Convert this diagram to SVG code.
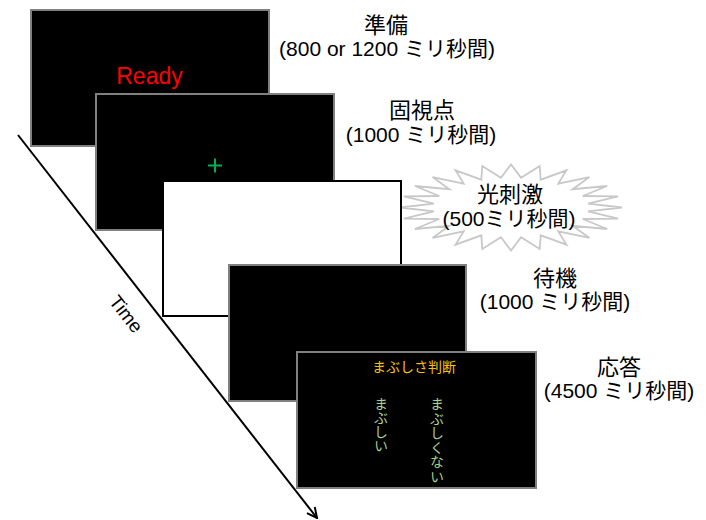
<svg xmlns="http://www.w3.org/2000/svg" width="706" height="520" viewBox="0 0 706 520">
<defs>
<style>
.scr{fill:#000;stroke:#808080;stroke-width:2}
.lbl{font-family:"Liberation Sans","Noto Sans CJK JP",sans-serif;fill:#000;text-anchor:middle}
.h{font-size:22px}
.d{font-size:21px}
.jp{font-family:"Noto Sans CJK JP",sans-serif;font-size:14px;text-anchor:middle}
.vt{font-family:"Noto Sans CJK JP",sans-serif;font-size:14px;fill:#a9d18e;writing-mode:vertical-rl;text-orientation:upright;text-anchor:start}
</style>
<marker id="ah" viewBox="0 0 12 12" refX="11" refY="6" markerWidth="12" markerHeight="12" markerUnits="userSpaceOnUse" orient="auto">
<path d="M1,1 L11,6 L1,11" fill="none" stroke="#000" stroke-width="2"/>
</marker>
</defs>
<rect width="706" height="520" fill="#fff"/>

<g id="ready">
<rect class="scr" x="31" y="10" width="238" height="136"/>
<text x="149.5" y="84" font-family="Liberation Sans,sans-serif" font-size="23" fill="#ff0000" text-anchor="middle">Ready</text>
<text class="lbl h" x="386" y="33">準備</text>
<text class="lbl d" x="387" y="56">(800 or 1200 ミリ秒間)</text>
</g>

<g id="fixation">
<rect class="scr" x="96" y="94" width="238" height="136"/>
<path d="M208,165.5 H222 M215,158.5 V172.5" stroke="#00b050" stroke-width="2"/>
<text class="lbl h" x="422" y="118">固視点</text>
<text class="lbl d" x="421" y="142">(1000 ミリ秒間)</text>
</g>

<g id="stimulus">
<polygon fill="#fff" stroke="#c8c8c8" stroke-width="1.8" points="622,207.5 588,211.4 618.2,218.6 582.8,219 607.1,229 572.6,225.8 589.5,237.9 558.3,231.4 566.5,244.7 540.7,235.3 539.7,249 521.1,237.3 511,250.5 500.9,237.3 482.3,249 481.3,235.3 455.5,244.7 463.7,231.4 432.5,237.9 449.4,225.8 414.9,229 439.2,219 403.8,218.6 434,211.4 400,207.5 434,203.6 403.8,196.4 439.2,196 414.9,186 449.4,189.2 432.5,177.1 463.7,183.6 455.5,170.3 481.3,179.7 482.3,166 500.9,177.7 511,164.5 521.1,177.7 539.7,166 540.7,179.7 566.5,170.3 558.3,183.6 589.5,177.1 572.6,189.2 607.1,186 582.8,196 618.2,196.4 588,203.6"/>
<rect x="163" y="181" width="238" height="135" fill="#fff" stroke="#000" stroke-width="2"/>
<text class="lbl h" x="510" y="202">光刺激</text>
<text class="lbl d" x="509" y="226">(500ミリ秒間)</text>
</g>

<g id="wait">
<rect class="scr" x="229" y="265" width="237" height="136"/>
<text class="lbl h" x="555" y="286">待機</text>
<text class="lbl d" x="555" y="309">(1000 ミリ秒間)</text>
</g>

<g id="response">
<rect class="scr" x="297" y="352" width="239" height="136"/>
<text class="jp" x="414" y="372" fill="#ffc000">まぶしさ判断</text>
<text class="vt" x="381" y="397">まぶしい</text>
<text class="vt" x="437" y="397" letter-spacing="0.5">まぶしくない</text>
<text class="lbl h" x="619" y="375">応答</text>
<text class="lbl d" x="619" y="398">(4500 ミリ秒間)</text>
</g>

<g id="connectors">
<line x1="18" y1="135" x2="317" y2="518" stroke="#000" stroke-width="2" marker-end="url(#ah)"/>
<text transform="translate(121,318) rotate(52)" font-family="Liberation Sans,sans-serif" font-size="19" text-anchor="middle">Time</text>
</g>
</svg>
